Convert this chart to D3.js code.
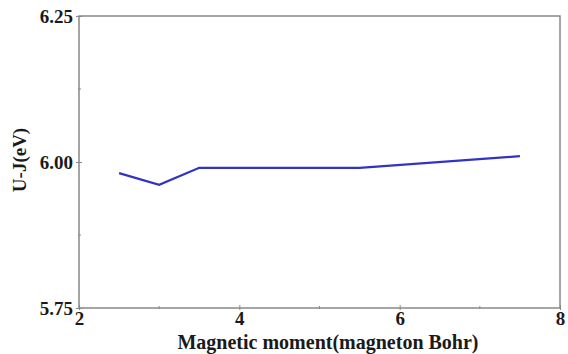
<!DOCTYPE html>
<html>
<head>
<meta charset="utf-8">
<script src="https://cdn.jsdelivr.net/npm/d3@7"></script>
<style>
  body { margin: 0; background: #fff; }
  text { font-family: "Liberation Serif", "DejaVu Serif", serif; font-weight: bold; fill: #1a1a1a; }
</style>
</head>
<body>
<div id="chart"></div>
<script>
// values
const moment = [2.5, 3.0, 3.5, 5.5, 7.5];
const uj = [5.981, 5.961, 5.990, 5.990, 6.010];
const xTicks = [2, 4, 6, 8];
const xMinor = [3, 5, 7];
const yTicks = [5.75, 6.00, 6.25];
const yMinor = [5.875, 6.125];

const width = 568, height = 354;
const margin = { top: 16, right: 8, bottom: 46, left: 79 };
const serif = '"Liberation Serif", "DejaVu Serif", serif';

const svg = d3.select('#chart').append('svg')
    .attr('width', width)
    .attr('height', height);

const x = d3.scaleLinear()
    .domain([2, 8])
    .range([margin.left, width - margin.right]);

const y = d3.scaleLinear()
    .domain([5.75, 6.25])
    .range([height - margin.bottom, margin.top]);

const axisColor = '#888';

// frame
svg.append('rect')
    .attr('x', x(2))
    .attr('y', y(6.25))
    .attr('width', x(8) - x(2))
    .attr('height', y(5.75) - y(6.25))
    .attr('fill', 'none')
    .attr('stroke', axisColor)
    .attr('stroke-width', 1.5);

// x axis
const gx = svg.append('g')
    .attr('transform', `translate(0,${y(5.75)})`)
    .attr('font-family', serif)
    .call(d3.axisBottom(x).tickValues(xTicks).tickFormat(d3.format('d')).tickSize(3).tickPadding(1));
gx.select('.domain').remove();
gx.selectAll('line').attr('stroke', axisColor).attr('y1', -3).attr('y2', 2);
gx.selectAll('text').style('font-size', '19px').attr('fill', '#1a1a1a');

svg.append('g').selectAll('line')
    .data(xMinor)
    .join('line')
    .attr('x1', d => x(d)).attr('x2', d => x(d))
    .attr('y1', y(5.75) - 2).attr('y2', y(5.75) + 1)
    .attr('stroke', axisColor);

// y axis
const gy = svg.append('g')
    .attr('transform', `translate(${x(2)},0)`)
    .attr('font-family', serif)
    .call(d3.axisLeft(y).tickValues(yTicks).tickFormat(d3.format('.2f')).tickSize(3).tickPadding(3));
gy.select('.domain').remove();
gy.selectAll('line').attr('stroke', axisColor).attr('x1', 3).attr('x2', -3);
gy.selectAll('text').style('font-size', '19px').attr('fill', '#1a1a1a');

svg.append('g').selectAll('line')
    .data(yMinor)
    .join('line')
    .attr('x1', x(2) - 1).attr('x2', x(2) + 2)
    .attr('y1', d => y(d)).attr('y2', d => y(d))
    .attr('stroke', axisColor);

// series
const line = d3.line()
    .x((d, i) => x(moment[i]))
    .y(d => y(d));

svg.append('path')
    .datum(uj)
    .attr('d', line)
    .attr('fill', 'none')
    .attr('stroke', '#3232c4')
    .attr('stroke-width', 2.2)
    .attr('stroke-linejoin', 'miter');

// axis titles
svg.append('text')
    .attr('x', 328)
    .attr('y', height - 5)
    .attr('text-anchor', 'middle')
    .style('font-size', '20px')
    .text('Magnetic moment(magneton Bohr)');

svg.append('text')
    .attr('transform', `translate(26,160) rotate(-90)`)
    .attr('text-anchor', 'middle')
    .style('font-size', '19px')
    .text('U-J(eV)');
</script>
</body>
</html>
